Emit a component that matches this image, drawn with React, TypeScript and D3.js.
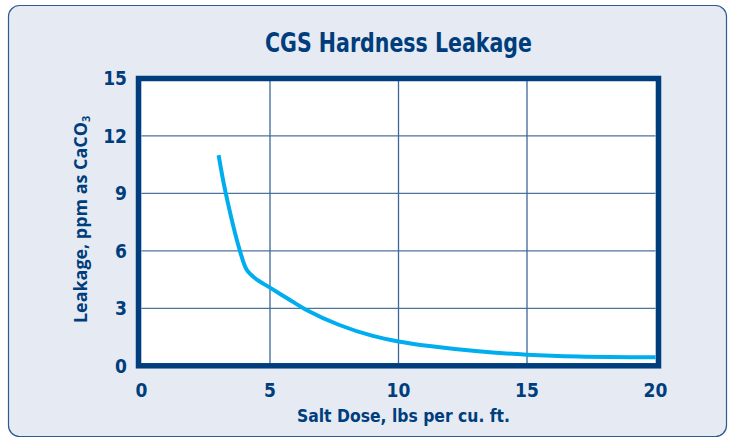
import React from "react";
import * as d3 from "d3";

const saltDose = [3, 3.28, 3.83, 4.1, 4.42, 5, 5.7, 6.4, 7.7, 9, 10, 11.2, 13, 15, 17, 20];
const leakage = [11, 9, 6, 5.0, 4.57, 4.08, 3.5, 2.93, 2.13, 1.56, 1.27, 1.03, 0.77, 0.58, 0.48, 0.44];
const xTicks = [0, 5, 10, 15, 20];
const yTicks = [0, 3, 6, 9, 12, 15];

const W = 733;
const H = 440;
const navy = "#003d7c";
const condensed = "'DejaVu Sans Condensed', 'DejaVu Sans', sans-serif";
const regular = "'Open Sans', 'Noto Sans', sans-serif";

export default function App() {
  const x = d3.scaleLinear().domain([0, 20]).range([141.5, 655.5]);
  const y = d3.scaleLinear().domain([0, 15]).range([365.8, 78.5]);

  const line = d3
    .line<number>()
    .x((_, i) => x(saltDose[i]))
    .y((d) => y(d))
    .curve(d3.curveCatmullRom.alpha(0.5));

  const [x0, x1] = x.range();
  const [y0, y1] = y.range();

  return (
    <svg
      width={W}
      height={H}
      style={{ position: "absolute", left: 0, top: 0, background: "#fff" }}
    >
      {/* panel */}
      <rect x={8.5} y={5.5} width={718} height={431} rx={11} fill="#e6ebf3" stroke="#2c5b92" strokeWidth={1.2} />

      <text
        x={265}
        y={52}
        textLength={267}
        lengthAdjust="spacingAndGlyphs"
        fill={navy}
        fontFamily={condensed}
        fontWeight="bold"
        fontSize={26}
      >
        CGS Hardness Leakage
      </text>

      {/* plot area */}
      <rect x={x0} y={y1} width={x1 - x0} height={y0 - y1} fill="#fff" />

      {/* grid */}
      {yTicks.slice(1, -1).map((t) => (
        <line key={"h" + t} x1={x0} x2={x1} y1={y(t)} y2={y(t)} stroke="#4d73a0" strokeWidth={1.3} />
      ))}
      {xTicks.slice(1, -1).map((t) => (
        <line key={"v" + t} x1={x(t)} x2={x(t)} y1={y1} y2={y0} stroke="#3d6898" strokeWidth={1.3} />
      ))}

      <path d={line(leakage) ?? ""} fill="none" stroke="#00aeef" strokeWidth={4} strokeLinecap="butt" />

      {/* frame */}
      <rect
        x={x0 - 3}
        y={y1}
        width={x1 - x0 + 6}
        height={y0 - y1}
        fill="none"
        stroke={navy}
        strokeWidth={5.5}
      />

      {/* y tick labels */}
      {yTicks.map((t) => (
        <text
          key={"yl" + t}
          x={127}
          y={y(t)}
          dy="0.36em"
          textAnchor="end"
          fill={navy}
          fontFamily={condensed}
          fontWeight="bold"
          fontSize={19}
        >
          {t}
        </text>
      ))}

      {/* x tick labels */}
      {xTicks.map((t) => (
        <text
          key={"xl" + t}
          x={x(t)}
          y={397}
          textAnchor="middle"
          fill={navy}
          fontFamily={condensed}
          fontWeight="bold"
          fontSize={19}
        >
          {t}
        </text>
      ))}

      <text
        x={297}
        y={422}
        textLength={213}
        lengthAdjust="spacingAndGlyphs"
        fill={navy}
        fontFamily={condensed}
        fontWeight="bold"
        fontSize={18}
      >
        Salt Dose, lbs per cu. ft.
      </text>

      <text transform="translate(86.5,323) rotate(-90)" fill={navy} fontFamily={regular} fontWeight={700} fontSize={17}>
        <tspan textLength={201} lengthAdjust="spacingAndGlyphs">
          Leakage, ppm as CaCO
        </tspan>
        <tspan fontSize={11} dy={3}>
          3
        </tspan>
      </text>
    </svg>
  );
}
